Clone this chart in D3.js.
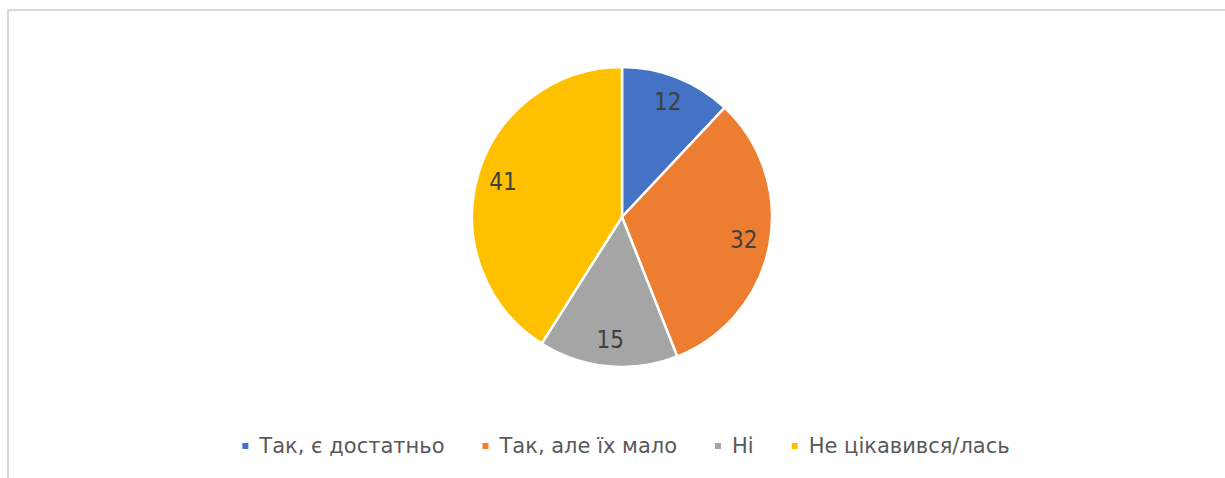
<!DOCTYPE html>
<html><head><meta charset="utf-8">
<script src="https://cdn.jsdelivr.net/npm/d3@7"></script>
<style>body{margin:0;background:#fff}svg{display:block}</style>
</head><body>
<script>
const categories = ["Так, є достатньо", "Так, але їх мало", "Ні", "Не цікавився/лась"];
const values = [12, 32, 15, 41];
const colors = ["#4472C4", "#ED7D31", "#A5A5A5", "#FFC000"];

const W = 1225, H = 478;
const FONT_L = "'DejaVu Sans Condensed', 'DejaVu Sans', sans-serif";
const FONT_G = "'DejaVu Sans', sans-serif";
const svg = d3.select("body").append("svg").attr("width", W).attr("height", H);

svg.append("rect").attr("x", 8).attr("y", 10).attr("width", W + 20).attr("height", H + 20)
  .attr("fill", "none").attr("stroke", "#d9d9d9").attr("stroke-width", 2);

const cx = 622, cy = 217, R = 150;
const pie = d3.pie().sort(null).value(d => d)(values);
const arc = d3.arc().innerRadius(0).outerRadius(R);
const labelArc = d3.arc().innerRadius(124).outerRadius(124);
const g = svg.append("g").attr("transform", `translate(${cx},${cy})`);
g.selectAll("path").data(pie).join("path")
  .attr("d", arc).attr("fill", (d, i) => colors[i])
  .attr("stroke", "#fff").attr("stroke-width", 2.5).attr("stroke-linejoin", "round");
g.selectAll("text").data(pie).join("text")
  .attr("transform", d => `translate(${labelArc.centroid(d)})`)
  .attr("text-anchor", "middle").attr("dominant-baseline", "central")
  .attr("font-family", FONT_L).attr("font-size", 24).attr("fill", "#404040")
  .text(d => d.data);

// legend
const lg = svg.append("g");
const items = lg.selectAll("g").data(categories).join("g");
items.append("rect").attr("width", 6).attr("height", 6).attr("y", -3)
  .attr("fill", (d, i) => colors[i]);
items.append("text").attr("x", 17).attr("y", 0).attr("dominant-baseline", "central")
  .attr("font-family", FONT_G).attr("font-size", 21).attr("fill", "#595959").text(d => d);
let x = 0;
items.each(function () {
  const w = 17 + this.querySelector("text").getComputedTextLength();
  d3.select(this).attr("transform", `translate(${x},0)`);
  x += w + 38;
});
const total = x - 38;
lg.attr("transform", `translate(${626 - total / 2},446)`);
</script>
</body></html>
